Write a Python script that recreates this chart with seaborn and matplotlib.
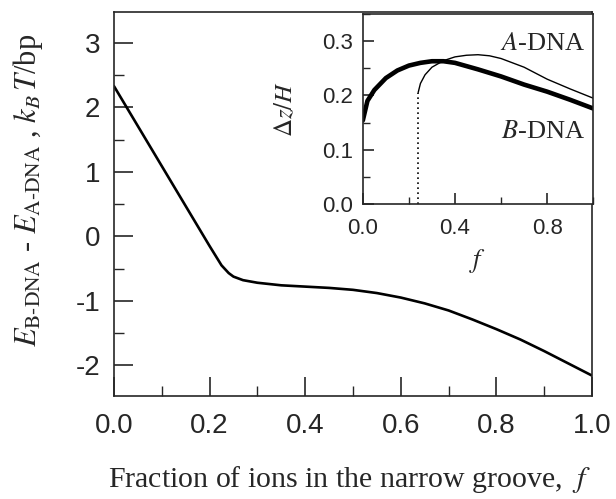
import numpy as np
import pandas as pd
import seaborn as sns
import matplotlib
matplotlib.use("Agg")
import matplotlib.pyplot as plt
from matplotlib.ticker import MultipleLocator, FormatStrFormatter

# main curve: energy difference vs fraction of ions in narrow groove
f_main = [0.0, 0.05, 0.10, 0.15, 0.20, 0.225, 0.24, 0.25, 0.27, 0.30, 0.35, 0.40, 0.45,
          0.50, 0.55, 0.60, 0.65, 0.70, 0.75, 0.80, 0.85, 0.90, 0.95, 1.0]
dE = [2.33, 1.71, 1.09, 0.47, -0.15, -0.45, -0.57, -0.625, -0.68, -0.72, -0.76, -0.78,
      -0.80, -0.83, -0.88, -0.95, -1.04, -1.15, -1.29, -1.44, -1.60, -1.78, -1.97, -2.16]

# inset: B-DNA (thick)
f_b = [0.0, 0.02, 0.05, 0.10, 0.15, 0.20, 0.25, 0.30, 0.35, 0.40, 0.50, 0.60,
       0.70, 0.80, 0.90, 1.0]
dz_b = [0.154, 0.19, 0.21, 0.232, 0.246, 0.255, 0.260, 0.263, 0.263, 0.260, 0.248,
        0.235, 0.220, 0.207, 0.192, 0.176]

# inset: A-DNA (thin)
f_a = [0.24, 0.25, 0.27, 0.30, 0.35, 0.40, 0.45, 0.50, 0.55, 0.60, 0.70, 0.80, 0.90, 1.0]
dz_a = [0.205, 0.222, 0.238, 0.252, 0.264, 0.271, 0.274, 0.275, 0.273, 0.268, 0.252,
        0.230, 0.212, 0.195]
f_switch = 0.24

sns.set_style("ticks")
plt.rcParams["font.family"] = ["Liberation Sans", "DejaVu Sans"]
plt.rcParams["mathtext.fontset"] = "stix"
plt.rcParams["axes.unicode_minus"] = False

serif = ["Liberation Serif", "DejaVu Serif"]

fig = plt.figure(figsize=(6.16, 4.99), dpi=100)
ax = fig.add_axes([0.185, 0.206, 0.776, 0.770])

df_main = pd.DataFrame({"f": f_main, "dE": dE})
sns.lineplot(data=df_main, x="f", y="dE", ax=ax, color="black", lw=1.9)

ax.set_xlim(0, 1)
ax.set_ylim(-2.48, 3.48)
ax.xaxis.set_major_locator(MultipleLocator(0.2))
ax.xaxis.set_minor_locator(MultipleLocator(0.1))
ax.yaxis.set_major_locator(MultipleLocator(1))
ax.yaxis.set_minor_locator(MultipleLocator(0.5))
ax.xaxis.set_major_formatter(FormatStrFormatter("%.1f"))
ax.tick_params(which="major", direction="in", length=14, width=1.2, labelsize=20,
               top=False, right=False)
ax.tick_params(which="minor", direction="in", length=7.5, width=1.0,
               top=False, right=False)
ax.tick_params(axis="x", which="major", pad=12)
ax.tick_params(axis="y", which="major", pad=10)
for s in ax.spines.values():
    s.set_linewidth(1.2)

ax.set_xlabel("Fraction of ions in the narrow groove,  $f$", fontsize=21.5,
              family=serif)
ax.set_ylabel(r"$E_{\mathrm{B\text{-}DNA}}$ - $E_{\mathrm{A\text{-}DNA}}$ , $k_B\,T$/bp",
              fontsize=22, family=serif)
ax.xaxis.set_label_coords(0.494, -0.176)
ax.yaxis.set_label_coords(-0.145, 0.536)

# inset
ins = fig.add_axes([0.589, 0.591, 0.374, 0.381])
df_b = pd.DataFrame({"f": f_b, "dz": dz_b})
df_a = pd.DataFrame({"f": f_a, "dz": dz_a})
sns.lineplot(data=df_b, x="f", y="dz", ax=ins, color="black", lw=3.3)
sns.lineplot(data=df_a, x="f", y="dz", ax=ins, color="black", lw=1.0)
ins.plot([f_switch, f_switch], [0, dz_a[0]], color="black", lw=1.2, ls=(0, (1, 2)))

ins.set_xlim(0, 1)
ins.set_ylim(0, 0.35)
ins.xaxis.set_major_locator(MultipleLocator(0.4))
ins.xaxis.set_minor_locator(MultipleLocator(0.2))
ins.yaxis.set_major_locator(MultipleLocator(0.1))
ins.yaxis.set_minor_locator(MultipleLocator(0.05))
ins.xaxis.set_major_formatter(FormatStrFormatter("%.1f"))
ins.yaxis.set_major_formatter(FormatStrFormatter("%.1f"))
ins.tick_params(which="major", direction="in", length=8, width=1.2, labelsize=16,
                top=False, right=False)
ins.tick_params(which="minor", direction="in", length=5, width=1.0,
                top=False, right=False)
ins.tick_params(axis="x", which="major", pad=10)
ins.tick_params(axis="y", which="major", pad=7)
for s in ins.spines.values():
    s.set_linewidth(1.2)

ins.set_xlabel("$f$", fontsize=19, labelpad=6)
ins.set_ylabel(r"$\Delta z/H$", fontsize=18, labelpad=18)

ins.text(0.965, 0.295, "$A$-DNA", ha="right", va="center", fontsize=19, family=serif)
ins.text(0.965, 0.132, "$B$-DNA", ha="right", va="center", fontsize=19, family=serif)

fig.savefig("out.png", dpi=100)
